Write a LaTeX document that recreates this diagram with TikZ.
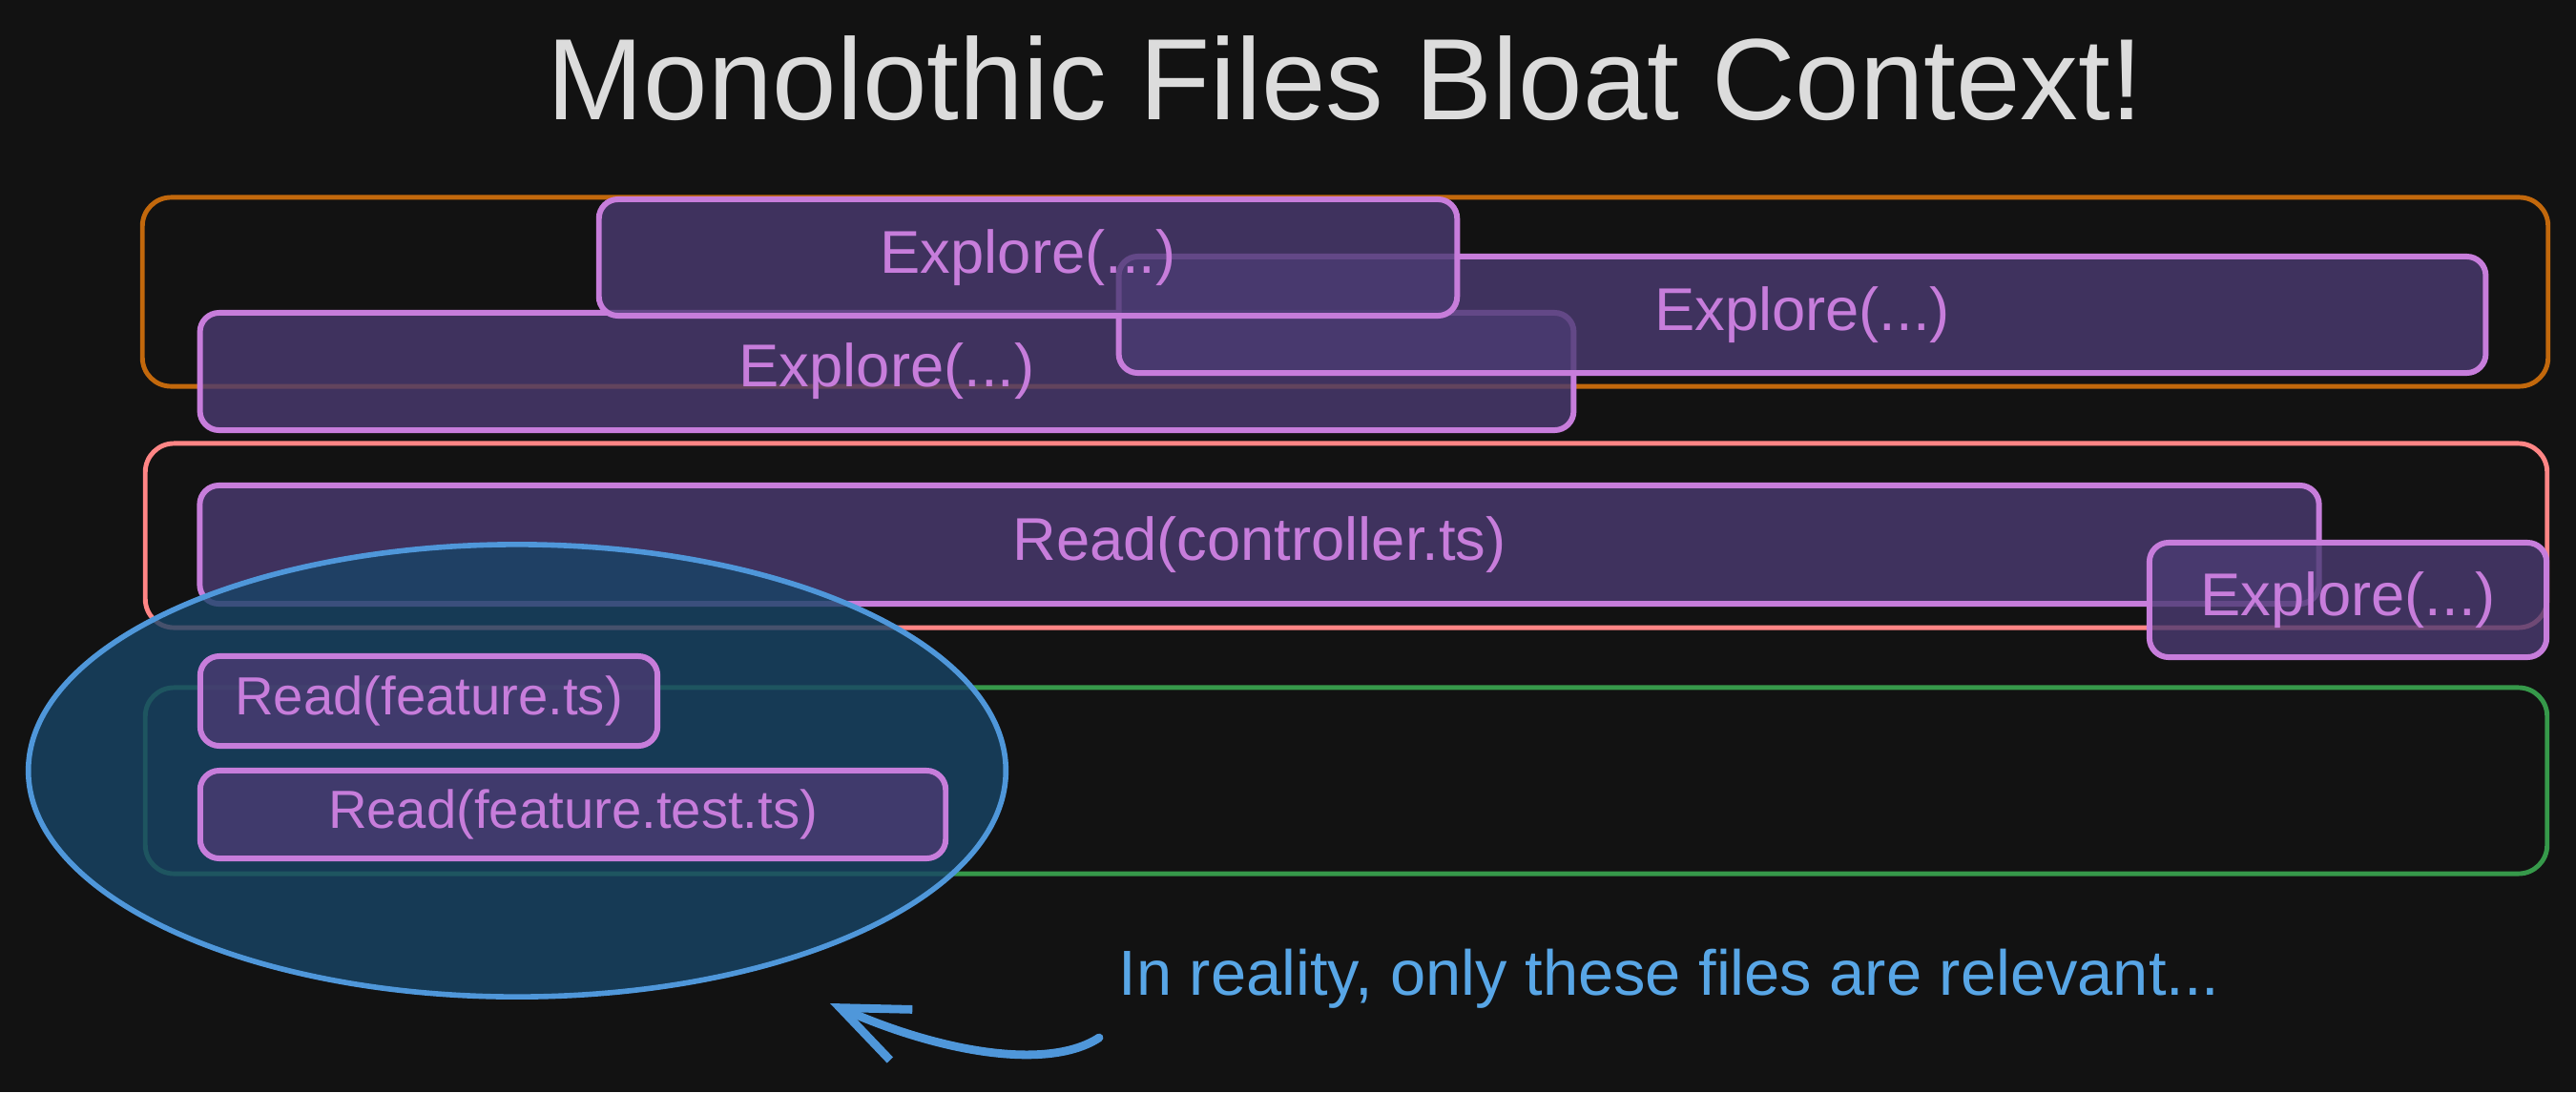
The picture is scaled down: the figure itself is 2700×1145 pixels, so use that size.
\documentclass[tikz,border=0pt]{standalone}
\usepackage{fontspec}
\setmainfont{Liberation Sans}
\usetikzlibrary{shapes.geometric,arrows.meta}
\definecolor{bg}{HTML}{121212}
\definecolor{titlecol}{HTML}{DCDCDC}
\definecolor{orangec}{HTML}{C2680C}
\definecolor{salmonc}{HTML}{FF8585}
\definecolor{greenc}{HTML}{36994A}
\definecolor{toolstroke}{HTML}{C77DDB}
\definecolor{toolfill}{HTML}{4B3B72}
\definecolor{bluestroke}{HTML}{4F97DA}
\definecolor{bluefill}{HTML}{184466}
\definecolor{notecol}{HTML}{58A6E6}
\begin{document}
\begin{tikzpicture}[x=0.01cm,y=-0.01cm,
  container/.style={draw, line width=1.4pt, rounded corners=0.3cm, inner sep=0pt, outer sep=0pt},
  tool/.style={draw=toolstroke, fill=toolfill, fill opacity=0.8, text opacity=1,
    line width=1.7pt, rounded corners=0.2cm, text=toolstroke,
    font=\fontsize{18}{20}\selectfont, inner sep=0pt, outer sep=0pt},
  smalltool/.style={tool, font=\fontsize{16}{18}\selectfont},
  focus/.style={ellipse, draw=bluestroke, fill=bluefill, fill opacity=0.8,
    line width=1.6pt, inner sep=0pt, outer sep=0pt},
  arrowline/.style={draw=bluestroke, line width=2.5pt, line cap=round,
    -{Straight Barb[length=0.7cm,width=0.58cm]}},
]
\useasboundingbox (0,0) rectangle (2700,1145);
\fill[bg] (0,0) rectangle (2700,1145);

% title
\node[text=titlecol, font=\fontsize{34.5}{40}\selectfont, anchor=base] (title) at (1410,125) {Monolothic Files Bloat Context!};

% containers
\node[container, draw=orangec, minimum width=25.2cm, minimum height=1.98cm] (orange) at (1410,306) {};
\node[container, draw=salmonc, minimum width=25.16cm, minimum height=1.93cm] (salmon) at (1411,561.5) {};
\node[container, draw=greenc, minimum width=25.16cm, minimum height=1.95cm] (green) at (1411,818.5) {};

% explore boxes (top row)
\node[tool, minimum width=14.39cm, minimum height=1.23cm] (e3) at (929.5,389.5) {Explore(...)};
\node[tool, minimum width=14.32cm, minimum height=1.22cm] (e2) at (1889,330) {Explore(...)};
\node[tool, minimum width=8.99cm, minimum height=1.22cm] (e1) at (1077.5,270) {Explore(...)};

% controller
\node[tool, minimum width=22.2cm, minimum height=1.24cm] (ctrl) at (1320,571) {Read(controller.ts)};
\node[tool, minimum width=4.16cm, minimum height=1.2cm] (e4) at (2461,629) {Explore(...)};

% focus ellipse
\node[focus, minimum width=10.24cm, minimum height=4.74cm] (focus) at (542,808) {};

% relevant files
\node[smalltool, minimum width=4.79cm, minimum height=0.94cm] (feat) at (449.5,735) {Read(feature.ts)};
\node[smalltool, minimum width=7.81cm, minimum height=0.92cm] (feattest) at (600.5,854) {Read(feature.test.ts)};

% annotation
\node[text=notecol, font=\fontsize{19}{22}\selectfont, anchor=base west, inner sep=0pt] (note) at (1172,1043) {In reality, only these files are relevant...};
\coordinate (arrtail) at (1152,1088);
\coordinate (arrtip) at (870,1052);
\draw[arrowline] (arrtail) .. controls (1100,1122) and (990,1105) .. (arrtip);
\end{tikzpicture}
\end{document}
